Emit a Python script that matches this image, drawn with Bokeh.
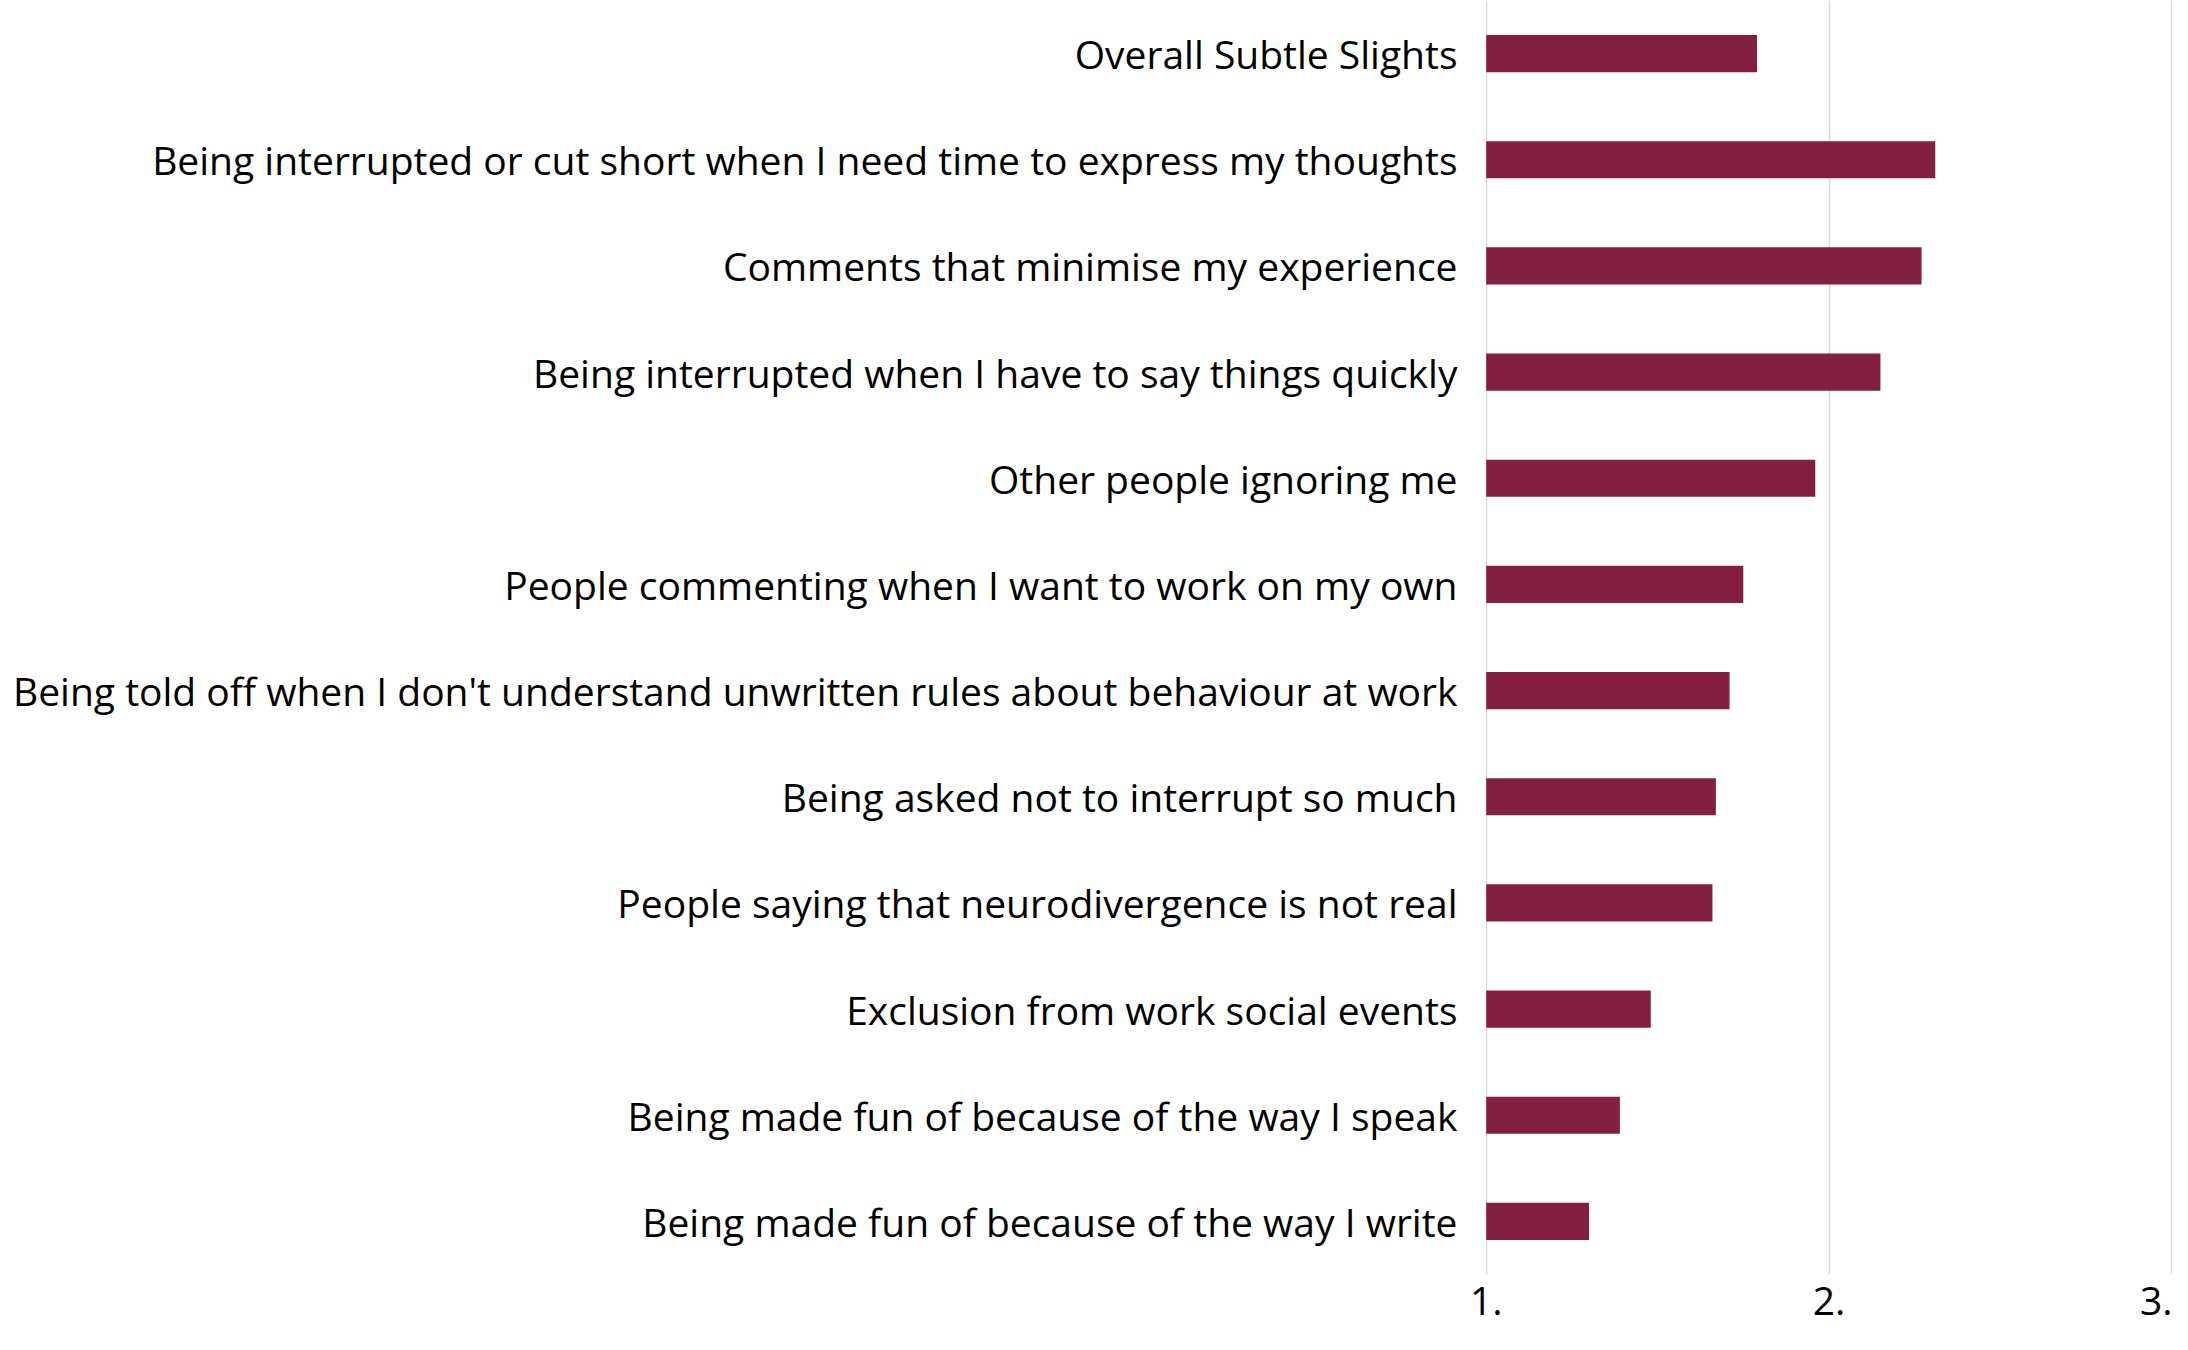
from bokeh.plotting import figure
from bokeh.models import FactorRange, Range1d, FixedTicker
from bokeh.embed import file_html
from bokeh.resources import INLINE

# rows, top to bottom as in the chart
categories = [
    "Overall Subtle Slights",
    "Being interrupted or cut short when I need time to express my thoughts",
    "Comments that minimise my experience",
    "Being interrupted when I have to say things quickly",
    "Other people ignoring me",
    "People commenting when I want to work on my own",
    "Being told off when I don't understand unwritten rules about behaviour at work",
    "Being asked not to interrupt so much",
    "People saying that neurodivergence is not real",
    "Exclusion from work social events",
    "Being made fun of because of the way I speak",
    "Being made fun of because of the way I write",
]
values = [1.79, 2.31, 2.27, 2.15, 1.96, 1.75, 1.71, 1.67, 1.66, 1.48, 1.39, 1.30]

x_ticks = [1, 2, 3]
x_tick_labels = ["1.", "2.", "3."]

FONT = "Open Sans"
BAR_COLOR = "#831F41"

# a hair of padding so the grid lines at 1 and 3 are still drawn
p = figure(width=2172, height=1334,
           y_range=FactorRange(factors=list(reversed(categories))),
           x_range=Range1d(0.998, 3.002),
           output_backend="svg", toolbar_location=None,
           min_border_left=1485, min_border_right=0,
           min_border_top=0, min_border_bottom=60)

p.hbar(y=categories, left=1, right=values, height=0.35,
       fill_color=BAR_COLOR, line_color=None)

p.outline_line_color = None
p.ygrid.grid_line_color = None
p.xgrid.grid_line_color = "#d9d9d9"
p.xgrid.grid_line_width = 1.5

p.yaxis.axis_line_color = None
p.yaxis.major_tick_line_color = None
p.yaxis.minor_tick_line_color = None
p.yaxis.major_label_text_font = FONT
p.yaxis.major_label_text_font_size = "39px"
p.yaxis.major_label_text_color = "#000000"
p.yaxis.major_label_standoff = 22

p.xaxis.ticker = FixedTicker(ticks=x_ticks)
p.xaxis.major_label_overrides = dict(zip(x_ticks, x_tick_labels))
p.xaxis.axis_line_color = None
p.xaxis.major_tick_line_color = None
p.xaxis.minor_tick_line_color = None
p.xaxis.major_label_text_font = FONT
p.xaxis.major_label_text_font_size = "39px"
p.xaxis.major_label_text_color = "#000000"
p.xaxis.major_label_standoff = 6

open("out.html", "w").write(file_html(p, INLINE))
